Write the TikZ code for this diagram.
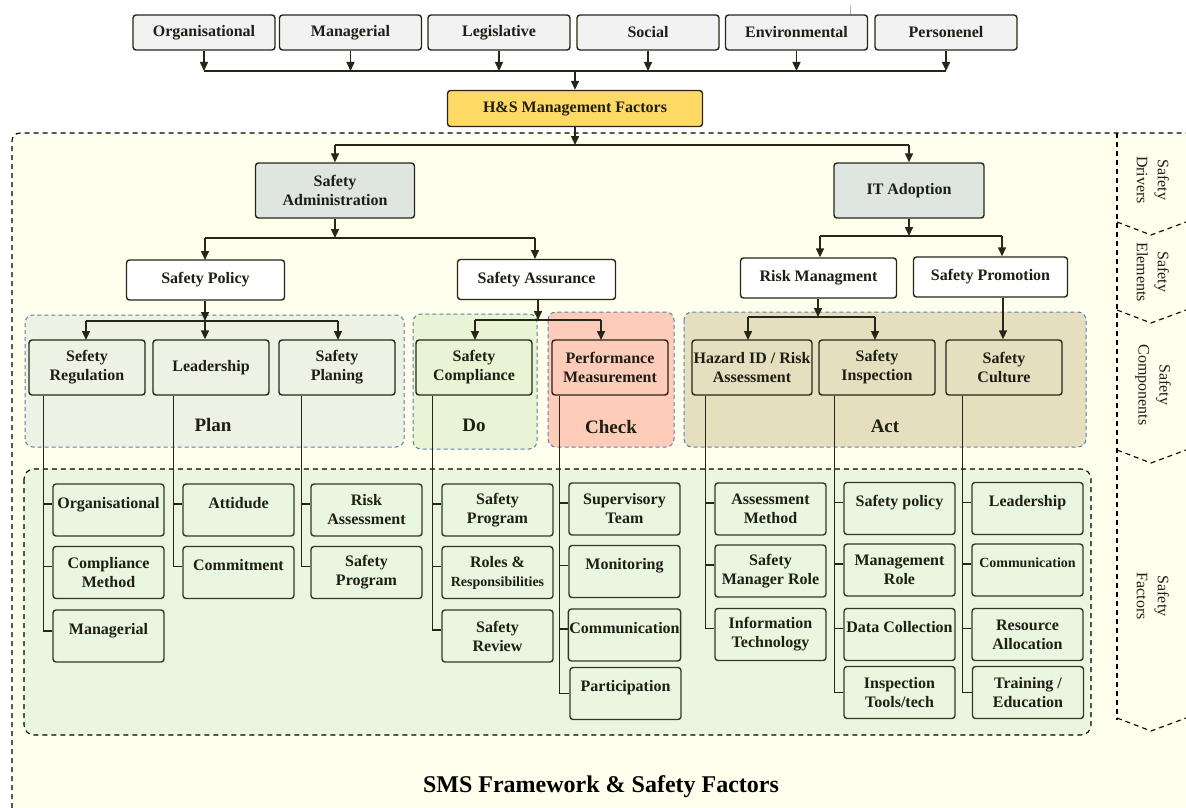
\documentclass[tikz,border=0pt]{standalone}
\usepackage{fontspec}
\setmainfont{Liberation Serif}
\usetikzlibrary{arrows.meta,calc}

\definecolor{ink}{HTML}{262618}
\definecolor{txt}{HTML}{1E1E14}
\definecolor{topfill}{HTML}{F2F2F2}
\definecolor{hsfill}{HTML}{FFD966}
\definecolor{tierfill}{HTML}{DFE6E1}
\definecolor{planfill}{HTML}{EEF2E4}
\definecolor{dofill}{HTML}{E8F4D3}
\definecolor{checkfill}{HTML}{FFCCBA}
\definecolor{actfill}{HTML}{E5DFBF}
\definecolor{factfill}{HTML}{E9F6E0}
\definecolor{ivory}{HTML}{FFFFEE}
\definecolor{rblue}{HTML}{5A7DB0}
\definecolor{fink}{HTML}{2F3B26}

% single-line labels sit in the upper part of a factor box
\newcommand\upline[1]{#1\\[-4pt]\mbox{}}
% factor box: name, x, y, text, shift of the tick point
\newcommand\fact[5]{%
  \node[factbox] (#1) at (#2,#3) {#4};
  \coordinate (k#1) at ([yshift=#5pt]#1.west);}

\tikzset{
  conn/.style={draw=ink, line width=1.5pt},
  arr/.style={conn, -{Triangle[length=9pt,width=8pt]}},
  dashline/.style={draw=black, line width=1.1pt, dash pattern=on 5pt off 4pt},
  box/.style={draw=ink, line width=1.4pt, rounded corners=3pt, align=center,
    inner sep=1pt, text=txt, font=\fontsize{16}{19}\selectfont\bfseries},
  topbox/.style={box, fill=topfill, minimum width=142pt, minimum height=35pt},
  hsbox/.style={box, fill=hsfill, minimum width=255pt, minimum height=36pt},
  tierbox/.style={box, fill=tierfill, minimum height=55pt},
  elembox/.style={box, fill=white, minimum width=158pt, minimum height=40pt},
  compbox/.style={box, minimum width=116pt, minimum height=55pt},
  factbox/.style={box, fill=factfill, draw=fink, minimum width=111pt, minimum height=52pt},
  region/.style={draw=rblue, dash pattern=on 4pt off 3pt, line width=1pt, rounded corners=8pt},
  phase/.style={font=\fontsize{19}{22}\selectfont\bfseries, text=txt},
  side/.style={font=\fontsize{16}{21}\selectfont, align=center, rotate=-90, text=txt},
}

\begin{document}
\begin{tikzpicture}[x=1pt,y=-1pt]
\useasboundingbox (0,0) rectangle (1186,808);

% framework background and frame
\fill[ivory] (12,133) rectangle (1186,808);
\draw[dashline, rounded corners=8pt] (12,808) -- (12,133) -- (1186,133);
\draw[dashline] (1117,133) -- (1117,720);
\draw[dashline] (1117,222) -- (1151,235) -- (1186,222);
\draw[dashline] (1117,310) -- (1151,323) -- (1186,310);
\draw[dashline] (1117,450) -- (1151,463) -- (1186,450);
\draw[dashline] (1117,718) -- (1151,731) -- (1186,718);
\draw[gray!60, line width=0.8pt] (850,5) -- (850,28);

% PDCA regions
\draw[region, fill=planfill]  (25,315) rectangle (404,447);
\draw[region, fill=dofill]    (413,314) rectangle (537,449);
\draw[region, fill=checkfill] (548,312) rectangle (674,447);
\draw[region, fill=actfill]   (684,312) rectangle (1086,447);
% safety factors region
\draw[dashline, fill=factfill, rounded corners=10pt] (24,469) rectangle (1091,735);

% side labels
\node[side] (sdrv) at (1153,180) {Safety\\Drivers};
\node[side] (sele) at (1153,272) {Safety\\Elements};
\node[side] (scmp) at (1153,385) {Safety\\Components};
\node[side] (sfac) at (1153,596) {Safety\\Factors};

% drivers
\node[topbox] (org) at (204,32.5)   {Organisational};
\node[topbox] (man) at (350.5,32.5) {Managerial};
\node[topbox] (leg) at (499,32.5)   {Legislative};
\node[topbox] (soc) at (648,32.5)   {Social};
\node[topbox] (env) at (796.5,32.5) {Environmental};
\node[topbox] (per) at (946,32.5)   {Personenel};
\node[hsbox]  (hs)  at (575,108.5)  {H\&S Management Factors};

% elements
\node[tierbox, minimum width=159pt] (admin) at (335,190.5) {Safety\\Administration};
\node[tierbox, minimum width=150pt] (it)    at (909,190.5) {IT Adoption};
\node[elembox] (policy) at (205.5,280) {Safety Policy};
\node[elembox] (assur)  at (536.5,279.5) {Safety Assurance};
\node[elembox, minimum width=156pt] (risk)  at (818.5,278) {Risk Managment};
\node[elembox, minimum width=154pt] (promo) at (990.5,277) {Safety Promotion};

% components
\node[compbox, fill=planfill]  (sreg)  at (87,367.5)  {Sefety\\Regulation};
\node[compbox, fill=planfill]  (lead)  at (211,367.5) {Leadership};
\node[compbox, fill=planfill]  (splan) at (337,367.5) {Safety\\Planing};
\node[compbox, fill=dofill]    (scomp) at (474,367.5) {Safety\\Compliance};
\node[compbox, fill=checkfill] (perf)  at (610,367.5) {Performance\\Measurement};
\node[compbox, fill=actfill, minimum width=120pt] (haz) at (752,367.5) {Hazard ID / Risk\\Assessment};
\node[compbox, fill=actfill]   (insp)  at (877,367.5) {Safety\\Inspection};
\node[compbox, fill=actfill]   (cult)  at (1004,367.5) {Safety\\Culture};

\node[phase] (plan)  at (213,425) {Plan};
\node[phase] (do)    at (474,425) {Do};
\node[phase] (check) at (611,427) {Check};
\node[phase] (act)   at (885,426) {Act};

% factors
\fact{f11}{108.5}{510}{\upline{Organisational}}{6}
\fact{f12}{108.5}{572.5}{Compliance\\Method}{6}
\fact{f13}{108.5}{636}{\upline{Managerial}}{5}
\fact{f21}{238.5}{510}{\upline{Attidude}}{6}
\fact{f22}{238.5}{572.5}{\upline{Commitment}}{6}
\fact{f31}{366.5}{510}{Risk\\Assessment}{6}
\fact{f32}{366.5}{572.5}{Safety\\Program}{6}
\fact{f41}{497.5}{510}{Safety\\Program}{6}
\fact{f42}{497.5}{572.5}{Roles \&\\{\fontsize{14}{16}\selectfont Responsibilities}}{6}
\fact{f43}{497.5}{636}{Safety\\Review}{6}
\fact{f51}{624.5}{509}{Supervisory\\Team}{6}
\fact{f52}{624.5}{571.5}{\upline{Monitoring}}{6}
\fact{f53}{624.5}{635}{\upline{Communication}}{6}
\fact{f54}{625.5}{693.5}{\upline{Participation}}{0}
\fact{f61}{770.5}{509}{Assessment\\Method}{6}
\fact{f62}{770.5}{571}{Safety\\Manager Role}{6}
\fact{f63}{770.5}{634.5}{Information\\Technology}{6}
\fact{f71}{899.5}{508.5}{\upline{Safety policy}}{6}
\fact{f72}{899.5}{570}{Management\\Role}{6}
\fact{f73}{899.5}{634.5}{\upline{Data Collection}}{6}
\fact{f74}{899.5}{692.5}{Inspection\\Tools/tech}{0}
\fact{f81}{1027.5}{508.5}{\upline{Leadership}}{6}
\fact{f82}{1027.5}{570}{\upline{\fontsize{14}{16}\selectfont Communication}}{6}
\fact{f83}{1027.5}{634.5}{Resource\\Allocation}{6}
\fact{f84}{1028}{692.5}{Training /\\Education}{0}

% title
\node[font=\fontsize{24}{28}\selectfont\bfseries, text=black] (title) at (601,787) {SMS Framework \& Safety Factors};

% drivers into H&S management factors
\coordinate (topbus) at (575,71);
\foreach \n in {org,man,leg,soc,env,per}
  \draw[arr] (\n.south) -- (\n.south |- topbus);
\draw[conn] (org.south |- topbus) -- (per.south |- topbus);
\draw[arr] (topbus) -- (hs.north);

% H&S into the two branches
\coordinate (hsbus) at (575,145);
\draw[arr] (hs.south) -- (hsbus);
\draw[conn] (admin.north |- hsbus) -- (it.north |- hsbus);
\draw[arr] (admin.north |- hsbus) -- (admin.north);
\draw[arr] (it.north |- hsbus) -- (it.north);

% safety administration
\coordinate (adbus) at (335,238);
\draw[arr] (admin.south) -- (adbus);
\draw[conn] (205,238) -- (535,238);
\draw[arr] (205,238) -- (205,260);
\draw[arr] (535,238) -- (535,259);

% IT adoption
\coordinate (itL) at (820,236);
\coordinate (itR) at (1002,236);
\draw[arr] (it.south) -- (it.south |- itL);
\draw[conn] (itL) -- (itR);
\draw[arr] (itL) -- (itL |- risk.north);
\draw[arr] (itR) -- (itR |- promo.north);

% safety policy into plan
\coordinate (plbus) at (205,321);
\draw[arr] (policy.south -| plbus) -- (plbus);
\draw[conn] (86,321) -- (338,321);
\draw[arr] (86,321) -- (86,340);
\draw[arr] (plbus) -- (plbus |- lead.north);
\draw[arr] (338,321) -- (338,340);

% safety assurance into do / check
\coordinate (dcbus) at (538,320);
\draw[arr] (assur.south -| dcbus) -- (dcbus);
\draw[conn] (475,320) -- (601,320);
\draw[arr] (475,320) -- (475,340);
\draw[arr] (601,320) -- (601,340);

% risk management into act
\coordinate (acbus) at (818,317);
\draw[arr] (risk.south -| acbus) -- (acbus);
\draw[conn] (748,317) -- (875,317);
\draw[arr] (748,317) -- (748,340);
\draw[arr] (875,317) -- (875,340);
\draw[arr] (promo.south -| 1003,0) -- (cult.north -| 1003,0);

% component trunks to factors
\foreach \c/\comp/\n in {1/sreg/3,2/lead/2,3/splan/2,4/scomp/3,5/perf/4,6/haz/3,7/insp/4,8/cult/4}{
  \coordinate (t\c) at ([xshift=-9pt]f\c1.west);
  \draw[conn] (\comp.south -| t\c) |- (kf\c\n);
  \foreach \r in {1,...,\n}
    \draw[conn] (t\c |- kf\c\r) -- (kf\c\r);
}
\end{tikzpicture}
\end{document}
